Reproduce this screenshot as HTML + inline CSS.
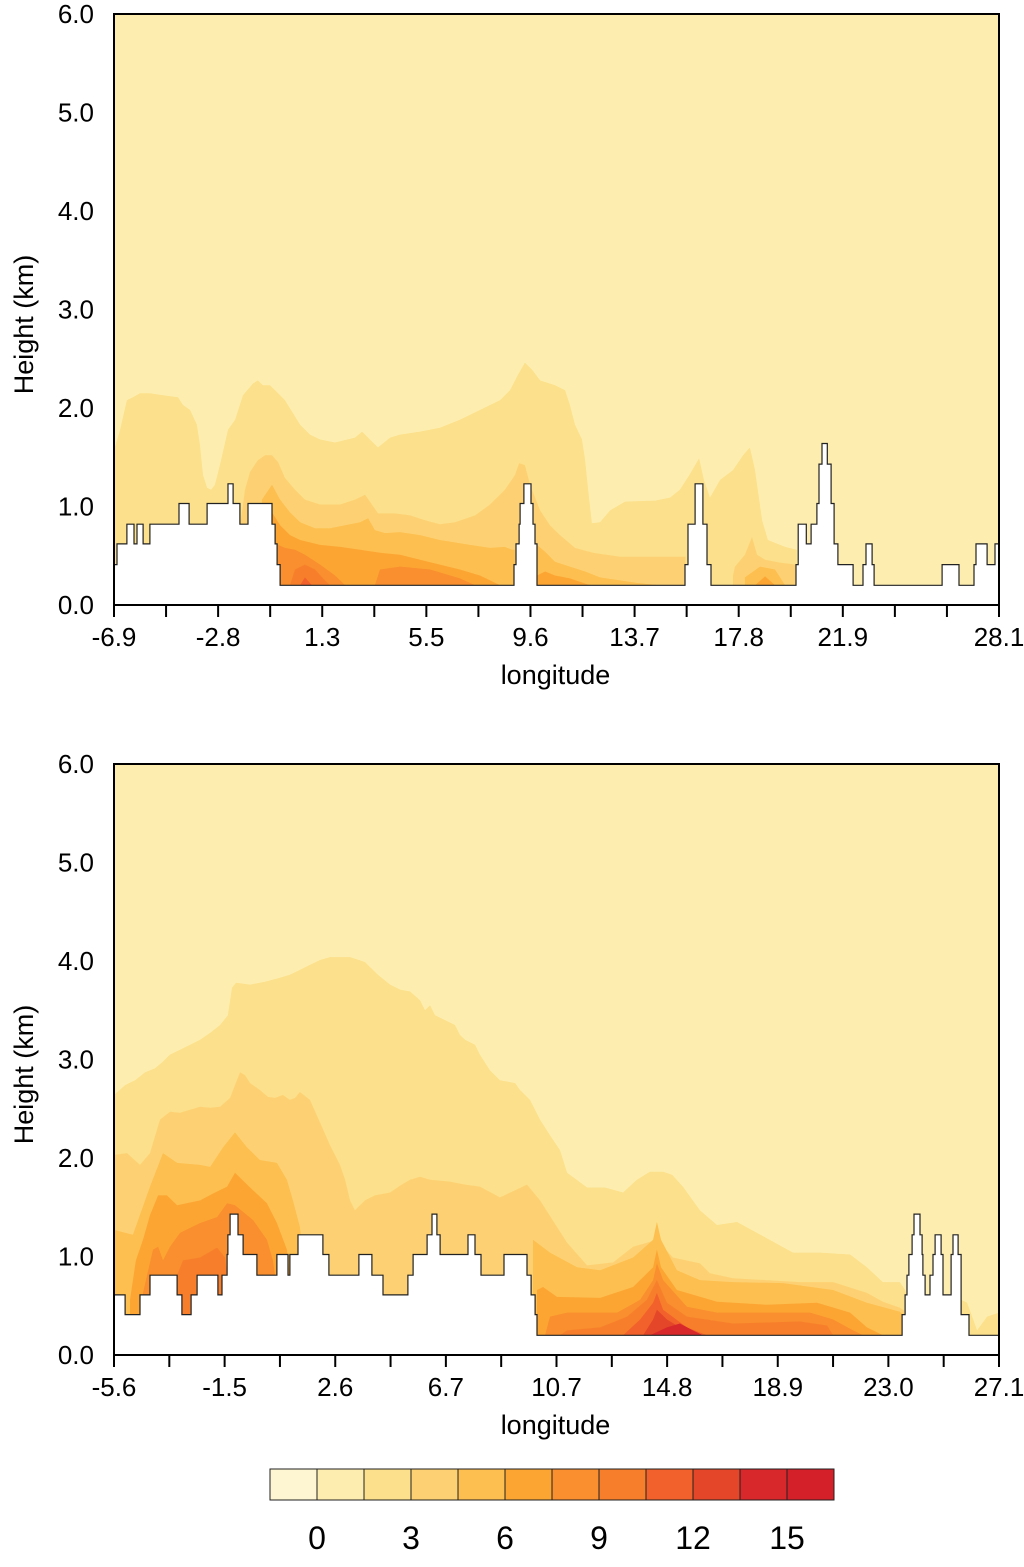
<!DOCTYPE html>
<html><head><meta charset="utf-8">
<style>
html,body{margin:0;padding:0;background:#fff;}
svg{display:block;font-family:"Liberation Sans",Arial,sans-serif;}
</style></head>
<body>
<svg id="chart" width="1024" height="1567" viewBox="0 0 1024 1567" xmlns="http://www.w3.org/2000/svg"></svg>
<script>
// ---------- data ----------
const levelColors = ["#fef5d3","#fdeeb0","#fce08b","#fdd173","#fdbf4f","#fca533","#f98f2e","#f77f2b","#f2612b","#e34628","#d8282b","#d42028"];
const colorbarLabels = ["0","3","6","9","12","15"];
const heightTicks = [0,1,2,3,4,5,6];
const heightTickLabels = ["0.0","1.0","2.0","3.0","4.0","5.0","6.0"];

// panel 1
const p1LonMin = -6.9, p1LonMax = 28.1;
const p1TickLabels = ["-6.9","-2.8","1.3","5.5","9.6","13.7","17.8","21.9","28.1"];
const p1TickCount = 17;
const p1Terrain = [[-6.90,0.41],[-6.78,0.62],[-6.39,0.82],[-6.11,0.62],[-5.99,0.82],[-5.75,0.62],[-5.48,0.82],[-4.33,1.03],[-3.93,0.82],[-3.22,1.03],[-2.39,1.23],[-2.19,1.03],[-1.92,0.82],[-1.60,1.03],[-0.65,0.82],[-0.53,0.62],[-0.45,0.41],[-0.33,0.20],[8.92,0.41],[9.00,0.62],[9.12,0.82],[9.16,1.03],[9.31,1.23],[9.59,1.03],[9.67,0.82],[9.75,0.62],[9.83,0.20],[15.68,0.41],[15.80,0.82],[16.08,1.23],[16.39,0.82],[16.55,0.41],[16.71,0.20],[20.07,0.41],[20.16,0.82],[20.48,0.62],[20.67,0.82],[20.90,1.03],[20.98,1.43],[21.10,1.64],[21.31,1.43],[21.46,1.03],[21.58,0.62],[21.73,0.41],[22.33,0.20],[22.72,0.41],[22.84,0.62],[23.08,0.41],[23.16,0.20],[25.85,0.41],[26.52,0.20],[27.11,0.41],[27.19,0.62],[27.63,0.41],[27.94,0.62]];
const p1Band2 = [[-6.90,1.57],[-6.66,1.78],[-6.39,2.08],[-6.15,2.11],[-5.87,2.15],[-5.48,2.15],[-4.96,2.13],[-4.37,2.11],[-4.17,2.03],[-3.89,1.98],[-3.62,1.83],[-3.50,1.62],[-3.38,1.32],[-3.22,1.19],[-3.06,1.17],[-2.91,1.22],[-2.71,1.42],[-2.39,1.78],[-2.11,1.88],[-1.80,2.13],[-1.40,2.25],[-1.21,2.28],[-1.01,2.23],[-0.73,2.23],[-0.45,2.16],[-0.14,2.08],[0.10,1.98],[0.46,1.83],[0.85,1.73],[1.25,1.68],[1.84,1.65],[2.63,1.70],[2.91,1.76],[3.22,1.68],[3.54,1.60],[4.02,1.70],[4.41,1.73],[5.20,1.76],[5.99,1.80],[6.78,1.88],[7.57,1.98],[8.37,2.08],[8.76,2.18],[9.08,2.34],[9.35,2.46],[9.63,2.39],[9.95,2.28],[10.54,2.23],[10.94,2.18],[11.13,2.03],[11.33,1.83],[11.61,1.68],[11.73,1.47],[11.85,1.17],[12.00,0.83],[12.32,0.84],[12.72,0.96],[13.31,1.05],[14.50,1.06],[15.09,1.09],[15.48,1.17],[15.88,1.33],[16.24,1.49],[16.43,1.27],[16.67,1.09],[17.07,1.27],[17.58,1.37],[17.98,1.52],[18.25,1.60],[18.45,1.37],[18.73,0.86],[18.96,0.66],[19.64,0.59],[20.10,0.56]];
const p1Band3a = [[-1.92,0.79],[-1.72,1.17],[-1.52,1.35],[-1.21,1.47],[-0.93,1.52],[-0.65,1.52],[-0.41,1.45],[-0.14,1.29],[0.26,1.17],[0.65,1.07],[1.25,1.02],[2.04,1.02],[2.63,1.07],[3.03,1.12],[3.30,1.02],[3.54,0.93],[4.21,0.93],[4.81,0.91],[5.40,0.86],[5.99,0.82],[6.59,0.84],[7.38,0.91],[7.97,1.02],[8.56,1.17],[8.96,1.32],[9.12,1.44],[9.35,1.42],[9.55,1.22],[9.95,0.96],[10.34,0.81],[10.74,0.71],[11.33,0.58],[12.04,0.53],[13.11,0.49],[14.30,0.49],[15.37,0.49],[15.70,0.49]];
const p1Band3b = [[17.58,0.30],[17.66,0.39],[18.05,0.51],[18.33,0.69],[18.53,0.51],[18.85,0.46],[19.44,0.43],[20.07,0.41]];
const p1Band4a = [[-1.05,1.07],[-0.65,1.22],[-0.33,1.07],[0.06,0.94],[0.46,0.84],[1.05,0.78],[1.64,0.78],[2.24,0.81],[2.83,0.84],[3.15,0.88],[3.42,0.76],[3.82,0.73],[4.41,0.74],[5.20,0.71],[5.99,0.66],[7.18,0.61],[7.97,0.58],[8.56,0.59],[8.84,0.56],[8.95,0.56]];
const p1Band4b = [[9.83,0.61],[10.15,0.54],[10.54,0.44],[11.13,0.39],[11.73,0.34],[12.32,0.28],[13.11,0.25],[13.90,0.22],[14.69,0.20]];
const p1Band4c = [[18.05,0.28],[18.65,0.39],[19.24,0.36],[19.64,0.20]];
const p1Band5a = [[-0.65,0.94],[-0.33,0.81],[0.06,0.71],[0.46,0.66],[1.25,0.61],[2.04,0.59],[2.83,0.56],[3.62,0.53],[4.41,0.51],[5.20,0.46],[5.99,0.41],[6.78,0.36],[7.57,0.30],[7.97,0.25],[8.37,0.20]];
const p1Band5b = [[9.83,0.30],[10.15,0.34],[10.54,0.30],[11.13,0.27],[11.92,0.20]];
const p1Band5c = [[18.45,0.20],[18.85,0.29],[19.24,0.20]];
const p1Band6a = [[-0.41,0.61],[-0.14,0.58],[0.26,0.56],[0.65,0.51],[1.25,0.41],[1.84,0.30],[2.24,0.20]];
const p1Band6b = [[3.42,0.20],[3.62,0.36],[4.41,0.39],[5.60,0.36],[6.78,0.27],[7.38,0.20]];
const p1Band7 = [[0.06,0.20],[0.26,0.36],[0.65,0.41],[1.05,0.36],[1.44,0.25],[1.64,0.20]];
const p1Band8 = [[0.46,0.20],[0.65,0.28],[0.93,0.20]];

// panel 2
const p2LonMin = -5.6, p2LonMax = 27.1;
const p2TickLabels = ["-5.6","-1.5","2.6","6.7","10.7","14.8","18.9","23.0","27.1"];
const p2TickCount = 16;
const p2Terrain = [[-5.60,0.61],[-5.19,0.41],[-4.64,0.61],[-4.27,0.81],[-3.27,0.61],[-3.09,0.41],[-2.75,0.61],[-2.53,0.81],[-1.76,0.61],[-1.61,0.81],[-1.42,1.02],[-1.39,1.22],[-1.31,1.43],[-1.02,1.22],[-0.83,1.02],[-0.32,0.81],[0.42,1.02],[0.83,0.81],[0.90,1.02],[1.20,1.22],[2.12,1.02],[2.34,0.81],[3.45,1.02],[3.93,0.81],[4.34,0.61],[5.26,0.81],[5.45,1.02],[5.97,1.22],[6.15,1.43],[6.33,1.22],[6.45,1.02],[7.48,1.22],[7.74,1.02],[7.96,0.81],[8.81,1.02],[9.66,0.81],[9.81,0.61],[9.96,0.41],[10.03,0.20],[23.52,0.41],[23.63,0.61],[23.70,0.81],[23.77,1.02],[23.89,1.22],[23.96,1.43],[24.18,1.22],[24.26,1.02],[24.29,0.81],[24.37,0.61],[24.55,0.81],[24.66,1.02],[24.74,1.22],[24.96,1.02],[25.03,0.61],[25.33,1.02],[25.40,1.22],[25.59,1.02],[25.70,0.41],[25.99,0.20]];
const p2Band2a = [[-5.60,2.64],[-5.19,2.74],[-4.82,2.79],[-4.45,2.87],[-4.09,2.91],[-3.83,2.97],[-3.53,3.05],[-3.16,3.10],[-2.79,3.15],[-2.42,3.20],[-2.05,3.27],[-1.68,3.35],[-1.39,3.45],[-1.24,3.73],[-1.09,3.78],[-0.57,3.76],[-0.02,3.79],[0.53,3.83],[0.90,3.86],[1.27,3.91],[1.64,3.96],[2.01,4.01],[2.38,4.04],[3.12,4.04],[3.67,3.99],[4.15,3.86],[4.60,3.76],[4.97,3.71],[5.34,3.69],[5.71,3.60],[5.89,3.50],[6.08,3.55],[6.26,3.45],[6.63,3.40],[7.00,3.35],[7.18,3.25],[7.37,3.20],[7.74,3.15],[7.92,3.05],[8.29,2.89],[8.66,2.79],[9.22,2.76],[9.40,2.69],[9.77,2.59],[10.14,2.39],[10.51,2.23],[10.88,2.08],[11.14,1.85],[11.88,1.70],[12.54,1.70],[13.21,1.65],[13.72,1.78],[14.20,1.86],[14.69,1.86],[15.02,1.83],[15.42,1.71],[16.05,1.47],[16.68,1.32],[17.42,1.35],[18.16,1.24],[19.49,1.04],[20.49,1.04],[21.60,1.02],[22.22,0.89],[22.81,0.74],[23.44,0.74],[23.63,0.66],[23.70,0.60]];
const p2Band2b = [[25.70,0.56],[25.92,0.53],[26.29,0.25],[26.66,0.39],[27.10,0.43]];
const p2Band3 = [[-5.60,2.03],[-5.12,2.05],[-4.64,1.93],[-4.27,2.05],[-3.90,2.39],[-3.53,2.47],[-3.16,2.46],[-2.79,2.49],[-2.42,2.52],[-2.05,2.51],[-1.68,2.52],[-1.31,2.61],[-1.13,2.74],[-0.94,2.87],[-0.76,2.84],[-0.57,2.76],[-0.21,2.69],[0.09,2.62],[0.35,2.61],[0.64,2.64],[0.90,2.59],[1.09,2.61],[1.27,2.67],[1.64,2.59],[2.01,2.36],[2.38,2.13],[2.75,1.93],[2.94,1.78],[3.12,1.57],[3.30,1.47],[3.67,1.57],[4.04,1.62],[4.60,1.65],[4.97,1.72],[5.34,1.78],[5.71,1.81],[6.08,1.78],[6.81,1.76],[7.37,1.73],[7.92,1.71],[8.66,1.60],[9.66,1.73],[10.14,1.57],[11.14,1.14],[11.88,0.91],[12.84,0.94],[13.58,1.10],[14.09,1.14],[14.46,1.17],[15.05,0.99],[16.05,0.93],[16.42,0.83],[17.27,0.78],[19.75,0.74],[20.97,0.74],[22.22,0.63],[22.81,0.54],[23.44,0.48],[23.60,0.45]];
const p2Band4a = [[-5.60,1.27],[-4.90,1.22],[-4.27,1.71],[-3.79,2.05],[-3.27,1.95],[-2.42,1.93],[-2.05,1.91],[-1.57,2.11],[-1.13,2.26],[-0.69,2.11],[-0.21,1.98],[0.42,1.95],[0.79,1.78],[1.01,1.57],[1.27,1.30],[1.38,1.04]];
const p2Band4b = [[9.88,1.17],[10.51,1.04],[11.51,0.89],[12.36,0.86],[13.58,0.99],[14.32,1.17],[14.46,1.35],[14.61,1.17],[15.20,0.86],[16.05,0.76],[17.27,0.74],[19.12,0.73],[20.97,0.66],[22.22,0.53],[23.44,0.44],[23.52,0.42]];
const p2Band5a = [[-5.01,0.56],[-4.79,0.96],[-4.53,1.17],[-4.27,1.42],[-3.97,1.62],[-3.64,1.62],[-3.27,1.52],[-2.42,1.57],[-1.94,1.64],[-1.42,1.71],[-1.13,1.85],[-0.57,1.70],[0.05,1.54],[0.42,1.34],[0.79,1.07],[0.90,0.81]];
const p2Band5b = [[10.03,0.66],[10.25,0.69],[10.77,0.59],[12.36,0.58],[13.58,0.69],[14.32,0.89],[14.46,1.07],[14.61,0.89],[15.20,0.66],[16.68,0.54],[18.53,0.51],[20.38,0.53],[21.60,0.43],[22.22,0.28],[22.81,0.20]];
const p2Band6a = [[-4.53,0.63],[-4.16,1.07],[-3.97,1.10],[-3.79,0.96],[-3.53,1.10],[-3.16,1.24],[-2.42,1.34],[-1.79,1.40],[-1.42,1.54],[-1.13,1.52],[-0.46,1.37],[0.05,1.17],[0.27,0.96],[0.35,0.81]];
const p2Band6b = [[10.33,0.20],[10.51,0.39],[11.14,0.43],[12.99,0.43],[13.84,0.56],[14.32,0.76],[14.46,0.93],[14.69,0.76],[15.57,0.49],[16.68,0.43],[18.53,0.43],[20.12,0.43],[20.97,0.36],[21.71,0.25],[22.08,0.20]];
const p2Band7a = [[-3.27,0.81],[-3.05,0.96],[-2.42,0.99],[-2.05,1.05],[-1.79,1.09],[-1.50,0.99],[-1.42,0.83]];
const p2Band7b = [[10.88,0.20],[11.14,0.25],[12.36,0.28],[13.36,0.39],[14.09,0.56],[14.46,0.76],[14.83,0.53],[15.57,0.39],[17.27,0.32],[19.75,0.34],[20.75,0.30],[20.97,0.20]];
const p2Band8 = [[13.21,0.20],[13.84,0.36],[14.32,0.53],[14.46,0.63],[14.69,0.46],[15.57,0.28],[16.31,0.20]];
const p2Band9 = [[13.95,0.20],[14.32,0.36],[14.46,0.46],[14.83,0.36],[15.79,0.20]];
const p2Band10 = [[14.21,0.20],[14.83,0.28],[15.31,0.32],[15.79,0.25],[16.16,0.20]];

// ---------- drawing ----------
const NS = "http://www.w3.org/2000/svg";
const svg = document.getElementById("chart");
function mk(tag, attrs, parent) {
  const e = document.createElementNS(NS, tag);
  for (const k in attrs) e.setAttribute(k, attrs[k]);
  (parent || svg).appendChild(e);
  return e;
}

function drawPanel(id, top, lonMin, lonMax, tickLabels, tickCount, terrain, bands) {
  const L = 114, R = 999, T = top, B = top + 591;
  const xs = lon => L + (lon - lonMin) / (lonMax - lonMin) * (R - L);
  const ys = h => B - h / 6 * (B - T);
  const g = mk("g", {});
  
  
  const clip = mk("clipPath", {id: id + "-clip"}, g);
  mk("rect", {x: L, y: T, width: R - L, height: B - T}, clip);
  const area = mk("g", {"clip-path": "url(#" + id + "-clip)"}, g);
  const bg = mk("rect", {x: L, y: T, width: R - L, height: B - T, fill: levelColors[1]}, area);
  
  
  bands.forEach(b => {
    const pts = b.pts;
    let d = "M" + xs(pts[0][0]) + "," + ys(0);
    pts.forEach(p => { d += " L" + xs(p[0]).toFixed(1) + "," + ys(p[1]).toFixed(1); });
    d += " L" + xs(pts[pts.length - 1][0]).toFixed(1) + "," + ys(0) + " Z";
    const el = mk("path", {d: d, fill: levelColors[b.level]}, area);
    
    
  });
  let d = "M" + xs(terrain[0][0]) + "," + (B + 2);
  for (let i = 0; i < terrain.length; i++) {
    const x0 = xs(terrain[i][0]);
    const x1 = i + 1 < terrain.length ? xs(terrain[i + 1][0]) : R + 2;
    const y = ys(terrain[i][1]);
    d += " L" + x0.toFixed(1) + "," + y.toFixed(1) + " L" + x1.toFixed(1) + "," + y.toFixed(1);
  }
  d += " L" + (R + 2) + "," + (B + 2) + " Z";
  const ter = mk("path", {d: d, fill: "#fff", stroke: "#222", "stroke-width": 1.2}, area);
  
  
  const fr = mk("rect", {x: L, y: T, width: R - L, height: B - T, fill: "none", stroke: "#000", "stroke-width": 2}, g);
  
  
  for (let i = 0; i <= tickCount; i++) {
    const x = L + i * (R - L) / tickCount;
    const t = mk("line", {x1: x, x2: x, y1: B, y2: B + 12, stroke: "#000", "stroke-width": 2}, g);
    
    
  }
  tickLabels.forEach((lab, i) => {
    const idx = i === tickLabels.length - 1 ? tickCount : i * 2;
    const x = L + idx * (R - L) / tickCount;
    const t = mk("text", {x: x, y: B + 41, "font-size": 26, "text-anchor": "middle", fill: "#000"}, g);
    t.textContent = lab;
    
    
  });
  heightTicks.forEach((h, i) => {
    const t = mk("text", {x: 94, y: ys(h) + 9, "font-size": 26, "text-anchor": "end", fill: "#000"}, g);
    t.textContent = heightTickLabels[i];
    
    
  });
  const xt = mk("text", {x: (L + R) / 2 - 1, y: B + 79, "font-size": 27, "text-anchor": "middle", fill: "#000"}, g);
  xt.textContent = "longitude";
  
  
  const cy = (T + B) / 2 + 15;
  const yt = mk("text", {x: 0, y: 0, "font-size": 27, "text-anchor": "middle", fill: "#000", transform: "translate(33," + cy + ") rotate(-90)"}, g);
  yt.textContent = "Height (km)";
  
  
}

drawPanel("panel-top", 14, p1LonMin, p1LonMax, p1TickLabels, p1TickCount, p1Terrain, [
  {level: 2, pts: p1Band2}, {level: 3, pts: p1Band3a}, {level: 3, pts: p1Band3b},
  {level: 4, pts: p1Band4a}, {level: 4, pts: p1Band4b}, {level: 4, pts: p1Band4c},
  {level: 5, pts: p1Band5a}, {level: 5, pts: p1Band5b}, {level: 5, pts: p1Band5c},
  {level: 6, pts: p1Band6a}, {level: 6, pts: p1Band6b}, {level: 7, pts: p1Band7}, {level: 8, pts: p1Band8}
]);
drawPanel("panel-bottom", 764, p2LonMin, p2LonMax, p2TickLabels, p2TickCount, p2Terrain, [
  {level: 2, pts: p2Band2a}, {level: 2, pts: p2Band2b}, {level: 3, pts: p2Band3},
  {level: 4, pts: p2Band4a}, {level: 4, pts: p2Band4b}, {level: 5, pts: p2Band5a}, {level: 5, pts: p2Band5b},
  {level: 6, pts: p2Band6a}, {level: 6, pts: p2Band6b}, {level: 7, pts: p2Band7a}, {level: 7, pts: p2Band7b},
  {level: 8, pts: p2Band8}, {level: 9, pts: p2Band9}, {level: 10, pts: p2Band10}
]);

const cb = mk("g", {});


const cbL = 270, cbW = 47, cbT = 1469, cbH = 31;
levelColors.forEach((c, i) => {
  const r = mk("rect", {x: cbL + i * cbW, y: cbT, width: cbW, height: cbH, fill: c, stroke: "#222", "stroke-width": 1}, cb);
  
  
});
colorbarLabels.forEach((lab, i) => {
  const t = mk("text", {x: cbL + (1 + i * 2) * cbW, y: 1549, "font-size": 32, "text-anchor": "middle", fill: "#000"}, cb);
  t.textContent = lab;
  
  
});
</script>
</body></html>
